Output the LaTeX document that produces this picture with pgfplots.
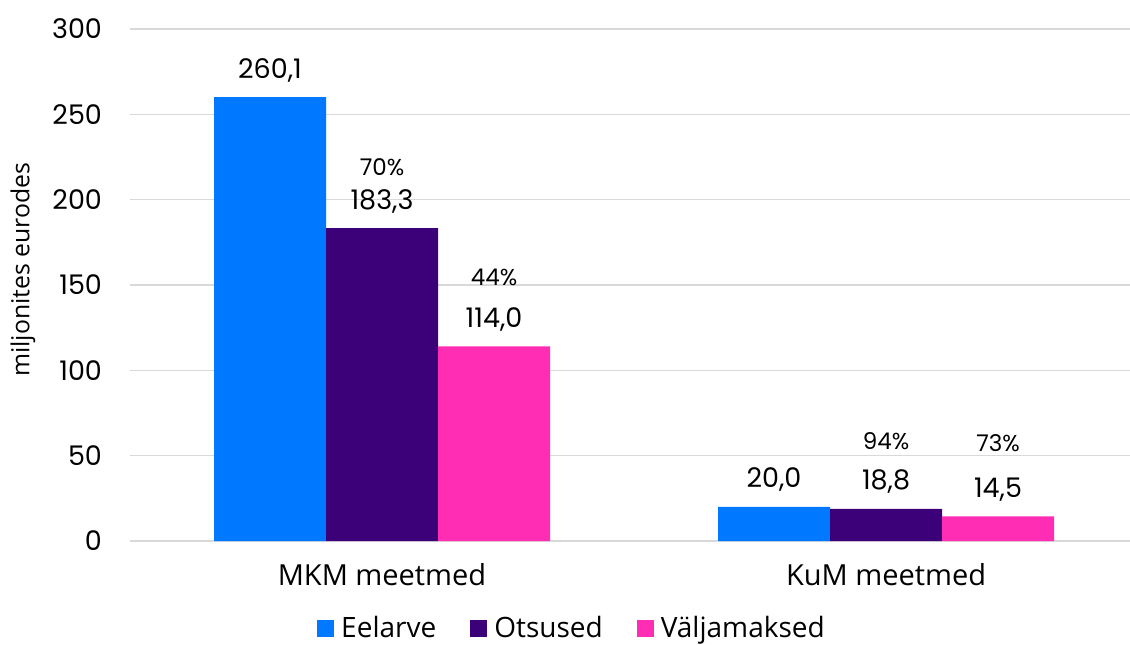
\documentclass[border=0pt]{standalone}
\usepackage{pgfplots}
\pgfplotsset{compat=1.18}
\usepackage{fontspec}
\setmainfont{Open Sans}
\newfontfamily\numfont{Poppins}
\definecolor{cBlue}{RGB}{0,120,255}
\definecolor{cPurple}{RGB}{60,0,120}
\definecolor{cPink}{RGB}{255,45,180}
\definecolor{cGrid}{RGB}{217,217,217}
\pgfplotsset{sqlegend/.style={legend image code/.code={\fill[##1] (0pt,-4.25pt) rectangle (8.5pt,4.25pt);}}}
\begin{document}
\begin{tikzpicture}
\useasboundingbox (0,0) rectangle (565pt,322pt);
\begin{axis}[
  at={(65pt,51.5pt)}, anchor=south west,
  scale only axis, width=500pt, height=256pt,
  ybar, bar width=56pt,
  xmin=-0.5, xmax=1.484, ymin=0, ymax=300,
  clip=false,
  axis line style={draw=none},
  ytick={0,50,...,300},
  ymajorgrids, grid style={draw=cGrid, line width=0.8pt},
  major tick length=0pt,
  /pgf/number format/assume math mode=true,
  yticklabel style={font=\numfont\fontsize{13.5}{16}\selectfont, xshift=-10.5pt},
  xtick={0,1}, xticklabels={MKM meetmed, KuM meetmed},
  xticklabel style={font=\fontsize{14.5}{17}\selectfont, anchor=base, yshift=-22pt},
  ylabel={miljonites eurodes},
  every axis y label/.style={at={(axis description cs:-0.107,0.53)}, rotate=90, anchor=center, font=\fontsize{12.4}{15}\selectfont},
  nodes near coords={\pgfmathprintnumber[fixed,fixed zerofill,precision=1,use comma]{\pgfplotspointmeta}},
  every node near coord/.append style={font=\numfont\fontsize{13.5}{16}\selectfont, anchor=center, yshift=13.5pt, text=black},
  legend columns=3,
  legend style={at={(0.443,-0.17)}, anchor=center, draw=none, fill=none,
    font=\fontsize{14}{17}\selectfont,
    /tikz/every even column/.append style={column sep=15pt},
    /tikz/every odd column/.append style={column sep=1.5pt}},
]
\addplot[ybar, bar shift=-56pt, fill=cBlue, draw=none, sqlegend] coordinates {(0,260.1) (1,20.0)};
\addplot[ybar, bar shift=0pt, fill=cPurple, draw=none, sqlegend] coordinates {(0,183.3) (1,18.8)};
\addplot[ybar, bar shift=56pt, fill=cPink, draw=none, sqlegend] coordinates {(0,114.0) (1,14.5)};
\legend{Eelarve, Otsused, Väljamaksed}
\node[font=\numfont\fontsize{11.5}{14}\selectfont] at (axis cs:0,219.1) {70\%};
\node[font=\numfont\fontsize{11.5}{14}\selectfont] at (axis cs:0.2222,154.7) {44\%};
\node[font=\numfont\fontsize{11.5}{14}\selectfont] at (axis cs:1,58.6) {94\%};
\node[font=\numfont\fontsize{11.5}{14}\selectfont] at (axis cs:1.2222,57.4) {73\%};
\end{axis}
\end{tikzpicture}
\end{document}
